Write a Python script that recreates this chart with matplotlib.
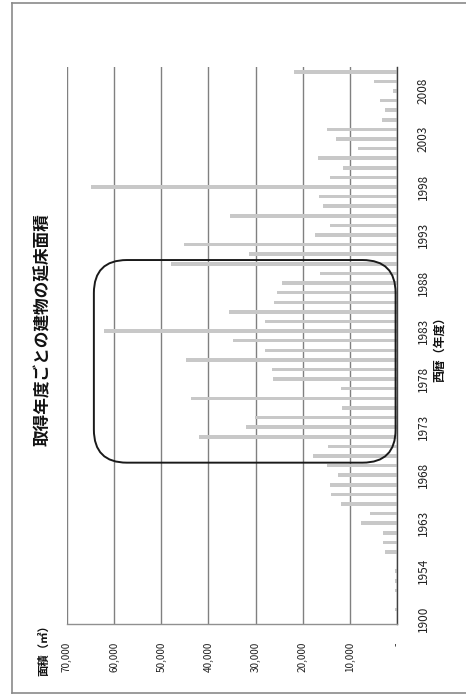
import matplotlib
matplotlib.use("Agg")
import matplotlib.pyplot as plt
from matplotlib.patches import FancyBboxPatch
from matplotlib.lines import Line2D

plt.rcParams['font.family'] = ['Noto Sans CJK JP', 'DejaVu Sans']

# Fiscal years of acquisition (one category per year with buildings)
years = [1900, 1911, 1926, 1936, 1950, 1954, 1956, 1959, 1961, 1962,
         1963, 1964, 1965, 1966, 1967, 1968, 1969, 1970, 1971, 1972,
         1973, 1974, 1975, 1976, 1977, 1978, 1979, 1980, 1981, 1982,
         1983, 1984, 1985, 1986, 1987, 1988, 1989, 1990, 1991, 1992,
         1993, 1994, 1995, 1996, 1997, 1998, 1999, 2000, 2001, 2002,
         2003, 2004, 2005, 2006, 2007, 2008, 2009, 2010]

# Total floor area (m2) per acquisition year
floor_area = [100, 500, 0, 350, 350, 500, 0, 2500, 3000, 3000,
              7600, 5800, 11900, 14000, 14300, 12600, 14900, 17900, 14700, 42100,
              32100, 30200, 11700, 43800, 11900, 26400, 26600, 44800, 28000, 34700,
              62100, 28100, 35700, 26100, 25500, 24300, 16300, 47900, 31500, 45100,
              17400, 14300, 35500, 15800, 16500, 64900, 14300, 11500, 16800, 8300,
              12900, 14800, 3200, 2500, 3700, 850, 4800, 21800]

value_ticks = [0, 10000, 20000, 30000, 40000, 50000, 60000, 70000]
value_labels = ['-' if v == 0 else f'{v:,}' for v in value_ticks]

title = '取得年度ごとの建物の延床面積'
value_title = '面積（㎡）'
year_title = '西暦（年度）'

# Highlighted span of years and its value extent
highlight_years = (1969.3, 1990.4)
highlight_value = (300, 64300)

W, H = 466, 695
fig = plt.figure(figsize=(W / 100, H / 100), dpi=100)
fig.patch.set_facecolor('white')

def fx(px):
    return px / W

def fy(py):
    return 1 - py / H

# Chart drawn turned on its side: years run bottom-to-top, values grow leftwards
ax = fig.add_axes([fx(67), fy(624), fx(397) - fx(67), fy(67) - fy(624)])
idx = list(range(len(years)))
ax.barh(idx, floor_area, height=0.37, color='#c8c8c8', zorder=2)

ax.set_xlim(70000, 0)
ax.set_ylim(-0.5, len(years) - 0.5)

ax.set_xticks(value_ticks)
ax.set_xticklabels(value_labels, rotation=90, fontsize=7.2, color='#222222')
ax.tick_params(axis='x', length=0, pad=13)
ax.xaxis.grid(True, color='#808080', linewidth=1.0, zorder=1)
ax.set_axisbelow(True)

ax.yaxis.tick_right()
label_idx = idx[::5]
ax.set_yticks(label_idx)
ax.set_yticklabels([str(years[i]) for i in label_idx], rotation=90,
                   fontsize=8.5, color='#222222', va='center')
ax.tick_params(axis='y', length=0, pad=14)

for side in ('top', 'left'):
    ax.spines[side].set_visible(False)
ax.spines['right'].set_color('#404040')
ax.spines['right'].set_linewidth(1.0)
ax.spines['bottom'].set_color('#909090')
ax.spines['bottom'].set_linewidth(1.0)

# Rounded frame around the highlighted years
def year_pos(y):
    for i in range(len(years) - 1):
        if years[i] <= y <= years[i + 1]:
            return i + (y - years[i]) / (years[i + 1] - years[i])
    return len(years) - 1

fig.canvas.draw()
p0 = ax.transData.transform((highlight_value[1], year_pos(highlight_years[0])))
p1 = ax.transData.transform((highlight_value[0], year_pos(highlight_years[1])))
x0, x1 = sorted([p0[0], p1[0]])
y0, y1 = sorted([p0[1], p1[1]])
rad = 33
box = FancyBboxPatch((x0 + rad, y0 + rad), (x1 - x0) - 2 * rad, (y1 - y0) - 2 * rad,
                     boxstyle=f'round,pad={rad},rounding_size={rad}',
                     transform=None, facecolor='none', edgecolor='#1a1a1a',
                     linewidth=1.4, zorder=5)
fig.add_artist(box)

# Titles
fig.text(fx(43), fy(330), title, rotation=90, ha='center', va='center',
         fontsize=12, fontweight='bold', color='#111111')
fig.text(fx(44), fy(648), value_title, rotation=90, ha='center', va='center',
         fontsize=8.2, fontweight='bold', color='#111111')
fig.text(fx(440), fy(346), year_title, rotation=90, ha='center', va='center',
         fontsize=8.6, fontweight='bold', color='#111111')

# Outer chart border
border = dict(color='#8a8a8a', linewidth=1.2, transform=fig.transFigure)
fig.add_artist(Line2D([fx(12), fx(12)], [fy(3), fy(693)], **border))
fig.add_artist(Line2D([fx(12), 1.0], [fy(3), fy(3)], **border))
fig.add_artist(Line2D([fx(12), 1.0], [fy(693), fy(693)], **border))

fig.savefig('out.png', dpi=100, facecolor='white')
